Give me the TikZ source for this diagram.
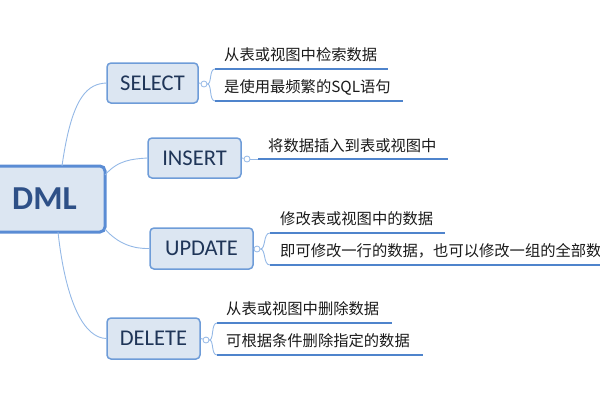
\documentclass[tikz,border=0pt]{standalone}
\usepackage{fontspec}
\setmainfont{Carlito}
\newfontfamily\cjk{Noto Sans CJK SC}
\definecolor{boxfill}{HTML}{DCE6F2}
\definecolor{boxline}{HTML}{6E9CD8}
\definecolor{rootline}{HTML}{5A8CD4}
\definecolor{thin}{HTML}{94B8E6}
\definecolor{uline}{HTML}{4F84CC}
\definecolor{labtext}{HTML}{1F3558}
\definecolor{roottext}{HTML}{2E5087}
\definecolor{leaftext}{HTML}{1A1A1A}
\tikzset{
  topicbox/.style={draw=boxline, fill=boxfill, line width=1.5pt, rounded corners=4pt, inner sep=0pt,
    text=labtext, font=\fontsize{22.5}{24}\selectfont},
  rootbox/.style={draw=rootline, fill=boxfill, line width=3pt, rounded corners=5pt, inner sep=0pt,
    text=roottext, font=\bfseries\fontsize{33.5}{35}\selectfont},
  knob/.style={circle, draw=thin, fill=white, line width=0.8pt, minimum size=6pt, inner sep=0pt},
  branch/.style={draw=thin, line width=0.9pt},
  under/.style={draw=uline, line width=2.4pt},
  leaf/.style={anchor=base west, inner sep=0pt, text=leaftext, font=\cjk\fontsize{15.3}{17}\selectfont},
}
\begin{document}
\begin{tikzpicture}[x=1pt,y=-1pt]
\useasboundingbox (0,0) rectangle (600,400);

% root and topics
\node[rootbox, minimum width=121pt, minimum height=66pt] (dml) at (44.5,199) {DML};
\node[topicbox, minimum width=91pt, minimum height=40pt] (sel) at (152.5,83) {SELECT};
\node[topicbox, minimum width=93pt, minimum height=40pt] (ins) at (194.5,158) {INSERT};
\node[topicbox, minimum width=103pt, minimum height=41pt] (upd) at (201.5,248.5) {UPDATE};
\node[topicbox, minimum width=93pt, minimum height=41pt] (del) at (153.5,338.5) {DELETE};

% root connectors
\coordinate (dt) at (62,166);
\coordinate (db) at (58,232);
\coordinate (dr1) at (105,175);
\coordinate (dr2) at (105,229);
\draw[branch] (dt) .. controls (72,95) and (88,84) .. (sel.west);
\draw[branch] (dr1) .. controls (118,160) and (132,159) .. (ins.west);
\draw[branch] (dr2) .. controls (118,244) and (134,249) .. (upd.west);
\draw[branch] (db) .. controls (66,305) and (85,338) .. (del.west);

% knobs
\node[knob] (ks) at (204,84) {};
\node[knob] (ki) at (247,159) {};
\node[knob] (ku) at (257,249) {};
\node[knob] (kd) at (206,340) {};
\draw[branch] (sel.east) -- (ks);
\draw[branch] (ins.east) -- (ki);
\draw[branch] (upd.east) -- (ku);
\draw[branch] (del.east) -- (kd);

% SELECT leaves
\coordinate (s1a) at (215,69); \coordinate (s1b) at (388,69);
\coordinate (s2a) at (215,101); \coordinate (s2b) at (403,101);
\draw[branch] (ks.east) .. controls (212,84) and (209,69) .. (s1a);
\draw[branch] (ks.east) .. controls (212,84) and (209,101) .. (s2a);
\draw[under] (s1a) -- (s1b);
\draw[under] (s2a) -- (s2b);
\node[leaf] (s1t) at (224,60.5) {从表或视图中检索数据};
\node[leaf] (s2t) at (224,92) {是使用最频繁的SQL语句};

% INSERT leaf
\coordinate (i1a) at (258,159); \coordinate (i1b) at (448,159);
\draw[branch] (ki.east) -- (i1a);
\draw[under] (i1a) -- (i1b);
\node[leaf] (i1t) at (268,151) {将数据插入到表或视图中};

% UPDATE leaves
\coordinate (u1a) at (270,233); \coordinate (u1b) at (445,233);
\coordinate (u2a) at (270,265); \coordinate (u2b) at (620,265);
\draw[branch] (ku.east) .. controls (266,249) and (263,233) .. (u1a);
\draw[branch] (ku.east) .. controls (266,249) and (263,265) .. (u2a);
\draw[under] (u1a) -- (u1b);
\draw[under] (u2a) -- (u2b);
\node[leaf] (u1t) at (280,224.5) {修改表或视图中的数据};
\node[leaf] (u2t) at (280,256) {即可修改一行的数据，也可以修改一组的全部数据};

% DELETE leaves
\coordinate (d1a) at (217,323); \coordinate (d1b) at (392,323);
\coordinate (d2a) at (217,355); \coordinate (d2b) at (423,355);
\draw[branch] (kd.east) .. controls (214,340) and (211,323) .. (d1a);
\draw[branch] (kd.east) .. controls (214,340) and (211,355) .. (d2a);
\draw[under] (d1a) -- (d1b);
\draw[under] (d2a) -- (d2b);
\node[leaf] (d1t) at (226,314.5) {从表或视图中删除数据};
\node[leaf] (d2t) at (226,346) {可根据条件删除指定的数据};
\end{tikzpicture}
\end{document}
